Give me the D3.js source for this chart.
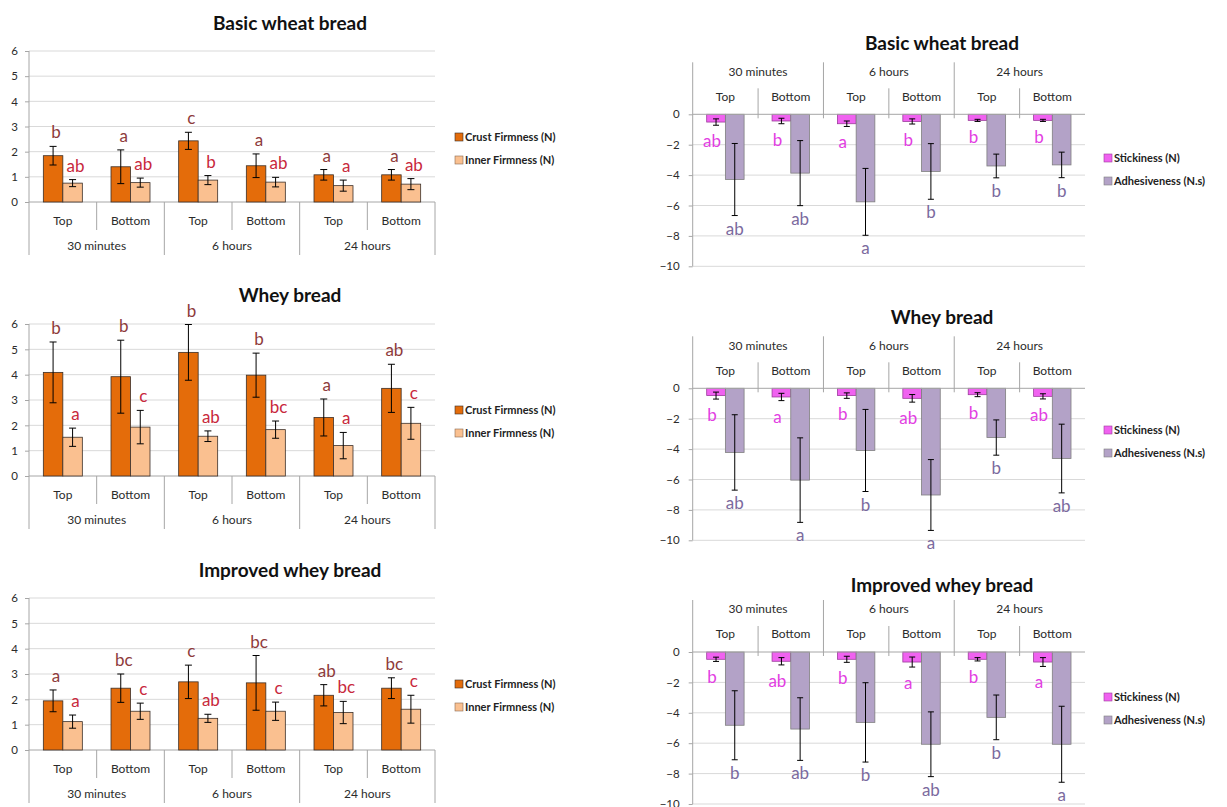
<!DOCTYPE html>
<html>
<head>
<meta charset="utf-8">
<script src="https://cdn.jsdelivr.net/npm/d3@7"></script>
<style>
  body { margin: 0; background: #fff; }
  svg { display: block; font-family: Lato, "Open Sans", sans-serif; }
</style>
</head>
<body>
<svg id="chart" width="1227" height="807"></svg>
<script>
// ---- categories and ticks ----
const timeGroups = ["30 minutes", "6 hours", "24 hours"];
const positions = ["Top", "Bottom"];
const breads = ["Basic wheat bread", "Whey bread", "Improved whey bread"];
const firmnessTicks = [0, 1, 2, 3, 4, 5, 6];
const adhesionTicks = [0, -2, -4, -6, -8, -10];
const firmnessSeries = ["Crust Firmness (N)", "Inner Firmness (N)"];
const adhesionSeries = ["Stickiness (N)", "Adhesiveness (N.s)"];

// ---- firmness (N): samples ordered 30 min Top/Bottom, 6 h Top/Bottom, 24 h Top/Bottom ----
const wheatCrust      = [1.84, 1.40, 2.43, 1.44, 1.08, 1.08];
const wheatCrustSd    = [0.37, 0.67, 0.34, 0.47, 0.21, 0.21];
const wheatInner      = [0.75, 0.77, 0.87, 0.79, 0.65, 0.71];
const wheatInnerSd    = [0.14, 0.18, 0.18, 0.19, 0.22, 0.22];
const wheatCrustGroups = ["b", "a", "c", "a", "a", "a"];
const wheatInnerGroups = ["ab", "ab", "b", "ab", "a", "ab"];

const wheyCrust       = [4.09, 3.92, 4.88, 3.98, 2.31, 3.46];
const wheyCrustSd     = [1.20, 1.44, 1.10, 0.87, 0.73, 0.95];
const wheyInner       = [1.53, 1.93, 1.57, 1.83, 1.20, 2.08];
const wheyInnerSd     = [0.36, 0.66, 0.21, 0.34, 0.52, 0.63];
const wheyCrustGroups = ["b", "b", "b", "b", "a", "ab"];
const wheyInnerGroups = ["a", "c", "ab", "bc", "a", "c"];

const improvedCrust   = [1.94, 2.44, 2.69, 2.65, 2.16, 2.44];
const improvedCrustSd = [0.43, 0.56, 0.66, 1.08, 0.42, 0.41];
const improvedInner   = [1.12, 1.53, 1.25, 1.53, 1.48, 1.61];
const improvedInnerSd = [0.26, 0.32, 0.16, 0.36, 0.44, 0.55];
const improvedCrustGroups = ["a", "bc", "c", "bc", "ab", "bc"];
const improvedInnerGroups = ["a", "c", "ab", "c", "bc", "c"];

// ---- stickiness (N) and adhesiveness (N.s) ----
const wheatStick      = [-0.51, -0.44, -0.62, -0.47, -0.40, -0.40];
const wheatStickSd    = [0.21, 0.18, 0.18, 0.17, 0.07, 0.07];
const wheatAdh        = [-4.29, -3.87, -5.76, -3.76, -3.40, -3.33];
const wheatAdhSd      = [2.37, 2.14, 2.20, 1.83, 0.78, 0.84];
const wheatStickGroups = ["ab", "b", "a", "b", "b", "b"];
const wheatAdhGroups   = ["ab", "ab", "a", "b", "b", "b"];

const wheyStick       = [-0.48, -0.57, -0.48, -0.66, -0.42, -0.53];
const wheyStickSd     = [0.23, 0.24, 0.18, 0.25, 0.13, 0.17];
const wheyAdh         = [-4.22, -6.04, -4.09, -7.02, -3.24, -4.62];
const wheyAdhSd       = [2.48, 2.78, 2.70, 2.33, 1.16, 2.26];
const wheyStickGroups = ["b", "a", "b", "ab", "b", "ab"];
const wheyAdhGroups   = ["ab", "a", "b", "a", "b", "ab"];

const improvedStick   = [-0.48, -0.61, -0.48, -0.66, -0.48, -0.66];
const improvedStickSd = [0.14, 0.24, 0.20, 0.33, 0.11, 0.29];
const improvedAdh     = [-4.82, -5.07, -4.63, -6.07, -4.30, -6.07];
const improvedAdhSd   = [2.27, 2.06, 2.61, 2.13, 1.47, 2.50];
const improvedStickGroups = ["b", "ab", "b", "a", "b", "a"];
const improvedAdhGroups   = ["b", "ab", "b", "ab", "b", "a"];

// ---- styling ----
const C = {
  crust: "#E46C0A", inner: "#FAC090", barStroke: "#3b2f28",
  stick: "#F062F0", stickStroke: "#9c3c9c",
  adh: "#B3A2C7", adhStroke: "#7f7f7f",
  crustText: "#8E3B3B", innerText: "#C8283C",
  stickText: "#E23EE2", adhText: "#7B6A9E",
  grid: "#D9D9D9", axis: "#A6A6A6", text: "#2b2b2b"
};

const svg = d3.select("#chart");
const samples = d3.range(timeGroups.length * positions.length);

function errorBar(g, x, yTop, yBot, cap) {
  g.append("line").attr("x1", x).attr("x2", x).attr("y1", yTop).attr("y2", yBot)
    .attr("stroke", "#000").attr("stroke-width", 1);
  [yTop, yBot].forEach(yy => g.append("line")
    .attr("x1", x - cap / 2).attr("x2", x + cap / 2).attr("y1", yy).attr("y2", yy)
    .attr("stroke", "#000").attr("stroke-width", 1));
}

function legend(g, x, ys, names, fills, strokes) {
  names.forEach((n, i) => {
    g.append("rect").attr("x", x).attr("y", ys[i] - 4).attr("width", 8).attr("height", 8)
      .attr("fill", fills[i]).attr("stroke", strokes[i]).attr("stroke-width", 0.6);
    g.append("text").attr("x", x + 10).attr("y", ys[i]).attr("dy", "0.35em")
      .attr("font-size", 11).attr("font-weight", "bold").attr("fill", "#222").text(n);
  });
}

// ---- firmness panel ----
function firmnessPanel(o) {
  const g = svg.append("g");
  const left = 29, right = 435;
  const x = d3.scaleBand().domain(samples).range([left, right]);
  const y = d3.scaleLinear().domain([0, 6]).range([o.y0, o.y6]);
  const bw = 19.5;
  const xs = d3.scaleBand().domain([0, 1]).range([x.bandwidth() / 2 - bw, x.bandwidth() / 2 + bw]);

  g.append("text").attr("x", 290).attr("y", o.titleY).attr("dy", "0.35em")
    .attr("text-anchor", "middle").attr("font-size", 19).attr("font-weight", "bold")
    .attr("fill", "#111").text(o.title);

  // grid
  firmnessTicks.filter(t => t > 0).forEach(t => g.append("line")
    .attr("x1", left).attr("x2", right).attr("y1", y(t)).attr("y2", y(t))
    .attr("stroke", C.grid));
  const ax = d3.axisLeft(y).tickValues(firmnessTicks).tickSize(4).tickPadding(7).tickFormat(d3.format("d"));
  const axG = g.append("g").attr("transform", `translate(${left},0)`).call(ax);
  axG.select(".domain").remove();
  axG.selectAll(".tick line").attr("stroke", C.axis);
  axG.selectAll(".tick text").attr("font-size", 11.5).attr("fill", C.text).attr("font-family", "Lato, sans-serif");
  g.append("line").attr("x1", left).attr("x2", left).attr("y1", o.y6).attr("y2", o.y0 + 53).attr("stroke", C.axis);
  g.append("line").attr("x1", left).attr("x2", right).attr("y1", o.y0).attr("y2", o.y0).attr("stroke", C.axis);

  // category separators and labels
  samples.forEach(i => {
    const xr = x(i) + x.bandwidth();
    const isGroupEnd = (i % 2 === 1);
    g.append("line").attr("x1", xr).attr("x2", xr).attr("y1", o.y0)
      .attr("y2", o.y0 + (isGroupEnd ? 53 : 28)).attr("stroke", C.axis);
    g.append("text").attr("x", x(i) + x.bandwidth() / 2).attr("y", o.y0 + 19).attr("dy", "0.35em")
      .attr("text-anchor", "middle").attr("font-size", 12).attr("fill", C.text)
      .text(positions[i % 2]);
  });
  timeGroups.forEach((t, j) => g.append("text")
    .attr("x", x(j * 2) + x.bandwidth()).attr("y", o.y0 + 44).attr("dy", "0.35em")
    .attr("text-anchor", "middle").attr("font-size", 12).attr("fill", C.text).text(t));

  // bars
  const series = [
    { v: o.crust, sd: o.crustSd, lab: o.crustLab, fill: C.crust, tc: C.crustText },
    { v: o.inner, sd: o.innerSd, lab: o.innerLab, fill: C.inner, tc: C.innerText }
  ];
  series.forEach((s, k) => {
    samples.forEach(i => {
      const bx = x(i) + xs(k);
      g.append("rect").attr("x", bx).attr("y", y(s.v[i])).attr("width", bw)
        .attr("height", y(0) - y(s.v[i])).attr("fill", s.fill)
        .attr("stroke", C.barStroke).attr("stroke-width", 0.8);
      const cx = bx + bw / 2;
      errorBar(g, cx, y(s.v[i] + s.sd[i]), y(s.v[i] - s.sd[i]), 7);
      g.append("text").attr("x", cx + 3).attr("y", y(s.v[i] + s.sd[i]) - 8)
        .attr("text-anchor", "middle").attr("font-size", 17).attr("fill", s.tc).text(s.lab[i]);
    });
  });

  legend(g, 455, [o.legY, o.legY + 23], firmnessSeries, [C.crust, C.inner], [C.barStroke, "#8a6a50"]);
}

// ---- stickiness / adhesiveness panel ----
function adhesionPanel(o) {
  const g = svg.append("g");
  const left = 692.7, right = 1085;
  const x = d3.scaleBand().domain(samples).range([left, right]);
  const y = d3.scaleLinear().domain([-10, 0]).range([o.y0 + 152, o.y0]);
  const bw = 18.7;
  const xs = d3.scaleBand().domain([0, 1]).range([x.bandwidth() / 2 - bw, x.bandwidth() / 2 + bw]);

  g.append("text").attr("x", 942).attr("y", o.titleY).attr("dy", "0.35em")
    .attr("text-anchor", "middle").attr("font-size", 19).attr("font-weight", "bold")
    .attr("fill", "#111").text(o.title);

  adhesionTicks.filter(t => t < 0).forEach(t => g.append("line")
    .attr("x1", left).attr("x2", right).attr("y1", y(t)).attr("y2", y(t))
    .attr("stroke", C.grid));
  const ax = d3.axisLeft(y).tickValues(adhesionTicks).tickSize(4).tickPadding(9).tickFormat(d3.format("d"));
  const axG = g.append("g").attr("transform", `translate(${left},0)`).call(ax);
  axG.select(".domain").remove();
  axG.selectAll(".tick line").attr("stroke", C.axis);
  axG.selectAll(".tick text").attr("font-size", 11.5).attr("fill", C.text).attr("font-family", "Lato, sans-serif");
  g.append("line").attr("x1", left).attr("x2", left).attr("y1", o.y0 - 52).attr("y2", y(-10)).attr("stroke", C.axis);

  // header with time groups and positions
  samples.forEach(i => {
    const xr = x(i) + x.bandwidth();
    if (i < samples.length - 1) {
      const isGroupEnd = (i % 2 === 1);
      g.append("line").attr("x1", xr).attr("x2", xr)
        .attr("y1", o.y0 - (isGroupEnd ? 52 : 26)).attr("y2", o.y0 + 4).attr("stroke", C.axis);
    }
    g.append("text").attr("x", x(i) + x.bandwidth() / 2).attr("y", o.y0 - 18).attr("dy", "0.35em")
      .attr("text-anchor", "middle").attr("font-size", 12).attr("fill", C.text)
      .text(positions[i % 2]);
  });
  timeGroups.forEach((t, j) => g.append("text")
    .attr("x", x(j * 2) + x.bandwidth()).attr("y", o.y0 - 43).attr("dy", "0.35em")
    .attr("text-anchor", "middle").attr("font-size", 12).attr("fill", C.text).text(t));

  const series = [
    { v: o.stick, sd: o.stickSd, lab: o.stickLab, fill: C.stick, st: C.stickStroke, tc: C.stickText, dx: -4, dy: 22 },
    { v: o.adh, sd: o.adhSd, lab: o.adhLab, fill: C.adh, st: C.adhStroke, tc: C.adhText, dx: 0, dy: 19 }
  ];
  series.forEach((s, k) => {
    samples.forEach(i => {
      const bx = x(i) + xs(k);
      g.append("rect").attr("x", bx).attr("y", y(0)).attr("width", bw)
        .attr("height", y(s.v[i]) - y(0)).attr("fill", s.fill)
        .attr("stroke", s.st).attr("stroke-width", 0.8);
    });
  });
  // zero line over bar tops
  g.append("line").attr("x1", left).attr("x2", right).attr("y1", y(0)).attr("y2", y(0)).attr("stroke", C.axis);
  series.forEach((s, k) => {
    samples.forEach(i => {
      const cx = x(i) + xs(k) + bw / 2;
      errorBar(g, cx, y(s.v[i] + s.sd[i]), y(s.v[i] - s.sd[i]), 6);
      g.append("text").attr("x", cx + s.dx).attr("y", y(s.v[i] - s.sd[i]) + s.dy)
        .attr("text-anchor", "middle").attr("font-size", 17).attr("fill", s.tc).text(s.lab[i]);
    });
  });

  legend(g, 1104, [o.legY, o.legY + 23], adhesionSeries, [C.stick, C.adh], [C.stickStroke, C.adhStroke]);
}

firmnessPanel({ title: breads[0], titleY: 23, y0: 202, y6: 51, legY: 137,
  crust: wheatCrust, crustSd: wheatCrustSd, inner: wheatInner, innerSd: wheatInnerSd,
  crustLab: wheatCrustGroups, innerLab: wheatInnerGroups });
firmnessPanel({ title: breads[1], titleY: 295, y0: 476, y6: 324, legY: 410,
  crust: wheyCrust, crustSd: wheyCrustSd, inner: wheyInner, innerSd: wheyInnerSd,
  crustLab: wheyCrustGroups, innerLab: wheyInnerGroups });
firmnessPanel({ title: breads[2], titleY: 570, y0: 750, y6: 598, legY: 684,
  crust: improvedCrust, crustSd: improvedCrustSd, inner: improvedInner, innerSd: improvedInnerSd,
  crustLab: improvedCrustGroups, innerLab: improvedInnerGroups });

adhesionPanel({ title: breads[0], titleY: 43, y0: 114.3, legY: 158,
  stick: wheatStick, stickSd: wheatStickSd, adh: wheatAdh, adhSd: wheatAdhSd,
  stickLab: wheatStickGroups, adhLab: wheatAdhGroups });
adhesionPanel({ title: breads[1], titleY: 317, y0: 388.3, legY: 430,
  stick: wheyStick, stickSd: wheyStickSd, adh: wheyAdh, adhSd: wheyAdhSd,
  stickLab: wheyStickGroups, adhLab: wheyAdhGroups });
adhesionPanel({ title: breads[2], titleY: 585, y0: 652, legY: 697,
  stick: improvedStick, stickSd: improvedStickSd, adh: improvedAdh, adhSd: improvedAdhSd,
  stickLab: improvedStickGroups, adhLab: improvedAdhGroups });
</script>
</body>
</html>
